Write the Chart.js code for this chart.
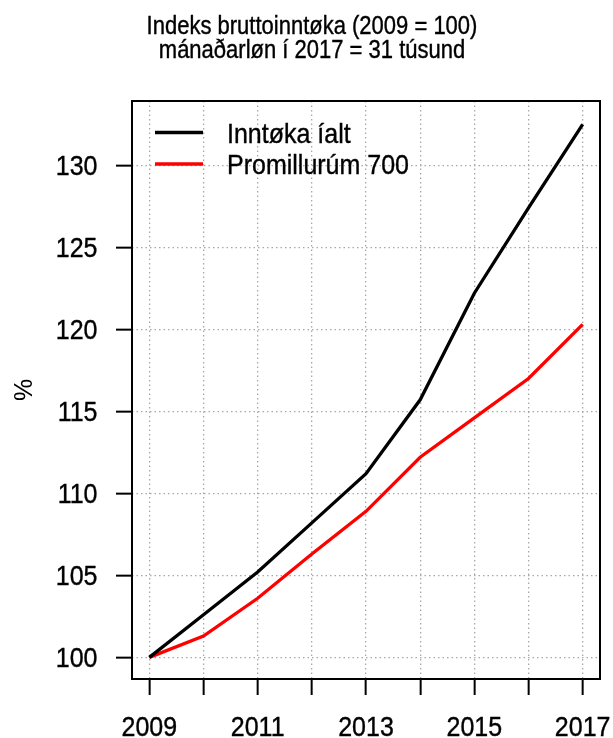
<!DOCTYPE html>
<html>
<head>
<meta charset="utf-8">
<script src="https://cdn.jsdelivr.net/npm/chart.js@4"></script>
<style>
  html, body { margin: 0; padding: 0; background: #fff; }
</style>
</head>
<body>
<canvas id="chart" width="613" height="738"></canvas>
<script>
const years = [2009, 2010, 2011, 2012, 2013, 2014, 2015, 2016, 2017]
const inntokaIalt = [100, 102.6, 105.2, 108.2, 111.2, 115.7, 122.2, 127.4, 132.5]
const promillurum700 = [100, 101.3, 103.6, 106.3, 108.9, 112.2, 114.6, 117.0, 120.3]
const yTicks = [100, 105, 110, 115, 120, 125, 130]
const labelledYears = [2009, 2011, 2013, 2015, 2017]
const titleLines = ['Indeks bruttoinntøka (2009 = 100)', 'mánaðarløn í 2017 = 31 túsund']
const seriesNames = ['Inntøka íalt', 'Promillurúm 700']

const FONT = '"Liberation Sans", Arial, Helvetica, sans-serif'

// text in the reference is a bit taller than wide, so stretch it vertically
function tallText(ctx, text, x, y, sy) {
  ctx.save()
  ctx.translate(x, y)
  ctx.scale(1, sy)
  ctx.lineWidth = 0.35
  ctx.strokeStyle = ctx.fillStyle
  ctx.fillText(text, 0, 0)
  ctx.strokeText(text, 0, 0)
  ctx.restore()
}

const decorations = {
  id: 'decorations',
  afterDraw(chart) {
    const { ctx, chartArea, scales } = chart
    ctx.save()
    // plot box
    ctx.strokeStyle = '#000'
    ctx.lineWidth = 2
    ctx.strokeRect(chartArea.left, chartArea.top, chartArea.right - chartArea.left, chartArea.bottom - chartArea.top)

    ctx.fillStyle = '#000'
    ctx.textBaseline = 'alphabetic'

    // tick labels, placed with the chart's own scales
    ctx.font = '25px ' + FONT
    ctx.textAlign = 'center'
    labelledYears.forEach(yr => {
      tallText(ctx, String(yr), scales.x.getPixelForValue(yr), 736, 1.12)
    })
    ctx.textAlign = 'right'
    yTicks.forEach(v => {
      tallText(ctx, String(v), 97.5, scales.y.getPixelForValue(v) + 10, 1.12)
    })

    // title
    ctx.textAlign = 'center'
    ctx.font = '22px ' + FONT
    tallText(ctx, titleLines[0], 312, 34, 1.14)
    tallText(ctx, titleLines[1], 312, 57.5, 1.14)

    // y axis label
    ctx.save()
    ctx.translate(25, 390)
    ctx.rotate(-Math.PI / 2)
    ctx.font = '25px ' + FONT
    ctx.textBaseline = 'middle'
    ctx.fillText('%', 0, 0)
    ctx.restore()

    // legend
    const rows = [132.5, 164]
    ctx.textAlign = 'left'
    ctx.font = '25px ' + FONT
    chart.data.datasets.forEach((ds, i) => {
      ctx.strokeStyle = ds.borderColor
      ctx.lineWidth = 3.3
      ctx.beginPath()
      ctx.moveTo(155, rows[i])
      ctx.lineTo(203, rows[i])
      ctx.stroke()
      ctx.fillStyle = '#000'
      tallText(ctx, ds.label, 227, rows[i] + 10, 1.12)
    })
    ctx.restore()
  }
}

const gridStyle = {
  color: '#a8a8a8',
  lineWidth: 1.3,
  tickLength: 16,
  tickColor: '#000',
  tickWidth: 2,
  tickBorderDash: []
}

new Chart(document.getElementById('chart').getContext('2d'), {
  type: 'line',
  data: {
    datasets: [
      {
        label: seriesNames[0],
        data: years.map((y, i) => ({ x: y, y: inntokaIalt[i] })),
        borderColor: '#000000',
        borderWidth: 3.3,
        pointRadius: 0,
        tension: 0
      },
      {
        label: seriesNames[1],
        data: years.map((y, i) => ({ x: y, y: promillurum700[i] })),
        borderColor: '#ff0000',
        borderWidth: 3.3,
        pointRadius: 0,
        tension: 0
      }
    ]
  },
  options: {
    responsive: false,
    animation: false,
    layout: { padding: { top: 101, right: 13, left: 0, bottom: 0 } },
    plugins: {
      legend: { display: false },
      tooltip: { enabled: false }
    },
    scales: {
      x: {
        type: 'linear',
        min: 2008.68,
        max: 2017.32,
        afterBuildTicks: (scale) => { scale.ticks = years.map(v => ({ value: v })) },
        afterFit: (scale) => { scale.height = 59 },
        border: { display: false, dash: [1.5, 3] },
        grid: gridStyle,
        ticks: { display: false }
      },
      y: {
        min: 98.68,
        max: 133.92,
        afterBuildTicks: (scale) => { scale.ticks = yTicks.map(v => ({ value: v })) },
        afterFit: (scale) => { scale.width = 132 },
        border: { display: false, dash: [1.5, 3] },
        grid: gridStyle,
        ticks: { display: false }
      }
    }
  },
  plugins: [decorations]
})
</script>
</body>
</html>
